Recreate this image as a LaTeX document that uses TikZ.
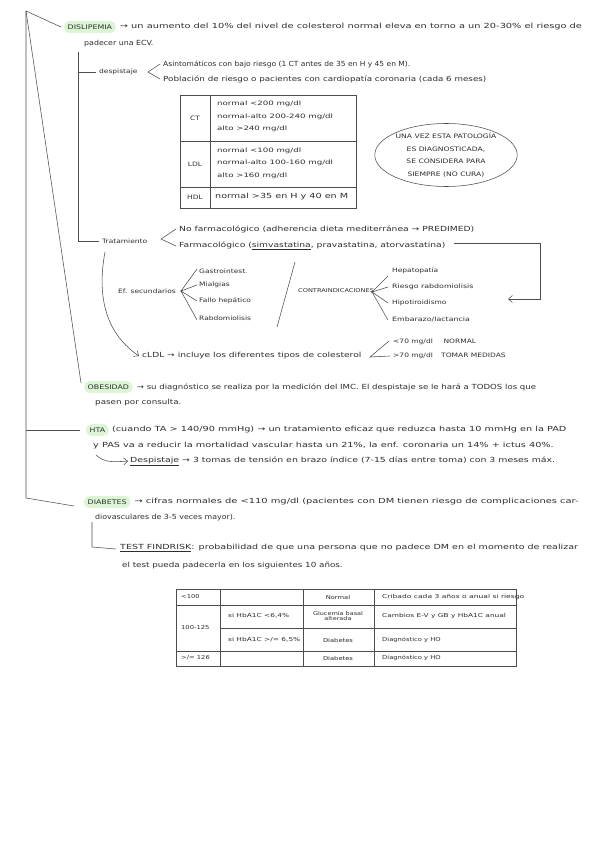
\documentclass[tikz,border=0pt]{standalone}
\usepackage{fontspec}
\setmainfont{DejaVu Sans}[FakeStretch=1.25]
\usetikzlibrary{arrows.meta,shapes.geometric}
\definecolor{ink}{HTML}{2E2E2E}
\definecolor{hlgreen}{HTML}{DCF5D4}
\newcommand{\sx}[2]{\scalebox{#1}[1]{#2}}
\begin{document}
\begin{tikzpicture}[x=1pt,y=-1pt,
  txt/.style={anchor=west, inner sep=0pt, font=\fontsize{7}{8.5}\selectfont, text=ink},
  sm/.style={txt, font=\fontsize{6}{7}\selectfont},
  tiny/.style={txt, font=\fontsize{5.4}{6}\selectfont},
  hl/.style={anchor=west, fill=hlgreen, rounded corners=5pt, inner xsep=3.5pt, inner ysep=3.5pt, font=\fontsize{6.3}{7}\selectfont, text=ink},
  ln/.style={draw=ink!85, line width=0.55pt},
  arr/.style={ln, -{Straight Barb[length=4pt,width=7pt]}}
]
\useasboundingbox[fill=white] (0,0) rectangle (599,848);

% ---------- DISLIPEMIA ----------
\node[hl] (dis) at (64,27) {DISLIPEMIA};
\node[txt] (dis1) at ([xshift=4pt]dis.east) {\sx{1.12}{→ un aumento del 10\% del nivel de colesterol normal eleva en torno a un 20-30\% el riesgo de}};
\node[txt] (dis2) at (84,44) {\sx{0.9}{padecer una ECV.}};

\node[sm] (des) at (99,72) {despistaje};
\coordinate (desA) at (148,72);
\node[txt] (asi) at (163,64) {\sx{0.86}{Asintomáticos con bajo riesgo (1 CT antes de 35 en H y 45 en M).}};
\node[txt] (pob) at (163,79) {Población de riesgo o pacientes con cardiopatía coronaria (cada 6 meses)};
\draw[ln] ([xshift=-3pt]asi.west) -- (desA) -- ([xshift=-3pt]pob.west);

% table 1
\draw[ln] (180,95) rectangle (356,208);
\draw[ln] (210,95) -- (210,208);
\draw[ln] (180,141) -- (356,141);
\draw[ln] (180,187) -- (356,187);
\node[sm, anchor=center] (ct) at (195,118) {CT};
\node[sm, anchor=center] (ldl) at (195,164) {LDL};
\node[sm, anchor=center] (hdl) at (195,197) {HDL};
\node[sm] (ct1) at (217,104) {\sx{1.15}{normal <200 mg/dl}};
\node[sm] (ct2) at (217,117) {\sx{1.15}{normal-alto 200-240 mg/dl}};
\node[sm] (ct3) at (217,129) {\sx{1.15}{alto >240 mg/dl}};
\node[sm] (ld1) at (217,151) {\sx{1.15}{normal <100 mg/dl}};
\node[sm] (ld2) at (217,163) {\sx{1.15}{normal-alto 100-160 mg/dl}};
\node[sm] (ld3) at (217,176) {\sx{1.15}{alto >160 mg/dl}};
\node[txt] (hd1) at (215,197) {\sx{1.1}{normal >35 en H y 40 en M}};

% ellipse
\node[ellipse, ln, minimum width=137pt, minimum height=63pt, align=center, inner sep=0pt,
      font=\fontsize{6.1}{12.5}\selectfont, text=ink] (elip) at (446,155)
  {UNA VEZ ESTA PATOLOGÍA\\ES DIAGNOSTICADA,\\SE CONSIDERA PARA\\SIEMPRE (NO CURA)};

% tratamiento
\node[sm] (tra) at (102,241) {Tratamiento};
\coordinate (traA) at (161,239);
\node[txt] (nof) at (179,229) {\sx{1.05}{No farmacológico (adherencia dieta mediterránea → PREDIMED)}};
\node[txt] (far) at (179,246) {\sx{1.05}{Farmacológico (\underline{simvastatina}, pravastatina, atorvastatina)}};
\draw[ln] ([xshift=-3pt]nof.west) -- (traA) -- ([xshift=-3pt]far.west);

% bracket of dislipemia
\coordinate (brT) at (78,52);
\draw[ln] (brT) -- (78,241) -- ([xshift=-3pt]tra.west);
\draw[ln] (78,72) -- ([xshift=-3pt]des.west);

% efectos secundarios
\node[sm] (efs) at (118,291) {Ef. secundarios};
\coordinate (efsA) at (181,291);
\node[sm] (ef1) at (199,271) {Gastrointest.};
\node[sm] (ef2) at (199,285) {Mialgias};
\node[sm] (ef3) at (199,301) {Fallo hepático};
\node[sm] (ef4) at (199,318) {Rabdomiolisis};
\draw[ln] ([xshift=-2pt,yshift=2pt]ef1.west) -- (efsA) -- ([xshift=-2pt]ef2.west);
\draw[ln] ([xshift=-2pt]ef3.west) -- (efsA) -- ([xshift=-2pt,yshift=-2pt]ef4.west);

\coordinate (slT) at (295,262);
\coordinate (slB) at (277,327);
\draw[ln] (slT) -- (slB);

% contraindicaciones
\node[tiny, font=\fontsize{5.3}{6}\selectfont] (ci) at (298,291) {CONTRAINDICACIONES};
\coordinate (ciA) at (372,292);
\node[sm] (ci1) at (392,271) {Hepatopatía};
\node[sm] (ci2) at (392,287) {\sx{1.05}{Riesgo rabdomiolisis}};
\node[sm] (ci3) at (392,303) {Hipotiroidismo};
\node[sm] (ci4) at (392,319) {\sx{1.05}{Embarazo/lactancia}};
\draw[ln] ([xshift=-4pt,yshift=-5pt]ci1.west) -- (ciA) -- ([xshift=-4pt]ci2.west);
\draw[ln] ([xshift=-4pt]ci3.west) -- (ciA) -- ([xshift=-4pt,yshift=-1pt]ci4.west);

% arrow farmacologico -> contraindicaciones
\coordinate (arE) at (508,299);
\draw[arr] ([xshift=8pt,yshift=3pt]far.east) -| (540,299) -- (arE);

% cLDL
\node[txt] (cldl) at (142,356) {\sx{1.04}{cLDL → incluye los diferentes tipos de colesterol}};
\coordinate (trB) at (105,252);
\draw[arr] (trB) .. controls (96,300) and (108,335) .. ([xshift=-3pt]cldl.west);
\coordinate (clA) at (370,357);
\node[sm] (cl1) at (393,342) {<70 mg/dl \quad\ NORMAL};
\node[sm] (cl2) at (393,356) {>70 mg/dl \quad TOMAR MEDIDAS};
\draw[ln] ([xshift=-4pt,yshift=1pt]cl1.west) -- (clA) -- ([xshift=-3pt]cl2.west);

% ---------- OBESIDAD ----------
\node[hl] (obe) at (84,387) {OBESIDAD};
\node[txt] (obe1) at ([xshift=4pt]obe.east) {\sx{0.98}{→ su diagnóstico se realiza por la medición del IMC. El despistaje se le hará a TODOS los que}};
\node[txt] (obe2) at (95,403) {pasen por consulta.};

% ---------- HTA ----------
\node[hl] (hta) at (86,430) {HTA};
\node[txt] (hta1) at ([xshift=3pt]hta.east) {\sx{1.11}{(cuando TA > 140/90 mmHg) → un tratamiento eficaz que reduzca hasta 10 mmHg en la PAD}};
\node[txt] (hta2) at (93,446) {\sx{1.11}{y PAS va a reducir la mortalidad vascular hasta un 21\%, la enf. coronaria un 14\% + ictus 40\%.}};
\node[txt] (hta3) at (130,461) {\sx{1.07}{\underline{Despistaje} → 3 tomas de tensión en brazo índice (7-15 días entre toma) con 3 meses máx.}};
\coordinate (htaC) at (96,455);
\draw[arr] (htaC) .. controls (104,463) and (115,462) .. ([xshift=-2pt]hta3.west);

% ---------- DIABETES ----------
\node[hl] (dia) at (84,502) {DIABETES};
\node[txt] (dia1) at ([xshift=4pt]dia.east) {\sx{1.13}{→ cifras normales de <110 mg/dl (pacientes con DM tienen riesgo de complicaciones car-}};
\node[txt] (dia2) at (95,518) {\sx{0.9}{diovasculares de 3-5 veces mayor).}};
\node[txt] (fin) at (120,548) {\sx{1.09}{\underline{TEST FINDRISK}: probabilidad de que una persona que no padece DM en el momento de realizar}};
\node[txt] (fin2) at (122,566) {el test pueda padecerla en los siguientes 10 años.};
\coordinate (fbT) at (92,522);
\draw[ln] (fbT) -- (92,547) -- ([xshift=-4pt,yshift=-1pt]fin.west);

% table 2
\draw[ln] (176,589) rectangle (516,666);
\draw[ln] (220,589) -- (220,666);
\draw[ln] (303,589) -- (303,666);
\draw[ln] (374,589) -- (374,666);
\draw[ln] (176,605) -- (516,605);
\draw[ln] (220,628) -- (516,628);
\draw[ln] (176,651) -- (516,651);
\node[tiny] (t11) at (181,597) {<100};
\node[tiny] (t21) at (181,628) {100-125};
\node[tiny] (t31) at (181,658) {>/= 126};
\node[tiny] (t22) at (228,616) {\sx{1.1}{si HbA1C <6,4\%}};
\node[tiny] (t23) at (228,640) {\sx{1.1}{si HbA1C >/= 6,5\%}};
\node[tiny, anchor=center] (t13) at (338,597) {Normal};
\node[tiny, anchor=center, align=center, font=\fontsize{5.2}{5.6}\selectfont] (t24) at (338,616) {Glucemia basal\\alterada};
\node[tiny, anchor=center] (t25) at (338,640) {Diabetes};
\node[tiny, anchor=center] (t33) at (338,658) {Diabetes};
\node[tiny] (t14) at (382,597) {\sx{1.12}{Cribado cada 3 años o anual si riesgo}};
\node[tiny] (t26) at (382,616) {\sx{1.1}{Cambios E-V y GB y HbA1C anual}};
\node[tiny] (t27) at (382,640) {Diagnóstico y HO};
\node[tiny] (t34) at (382,658) {Diagnóstico y HO};

% ---------- main left structure ----------
\coordinate (top) at (26,11);
\draw[ln] (top) -- ([xshift=-3pt]dis.west);
\draw[ln] (top) -- ([xshift=-3pt,yshift=-2pt]obe.north west);
\draw[ln] (top) -- (26,498) -- ([xshift=-10pt,yshift=-4pt]dia.west);
\draw[ln] (26,430) -- ([xshift=-6pt]hta.west);
\end{tikzpicture}
\end{document}
